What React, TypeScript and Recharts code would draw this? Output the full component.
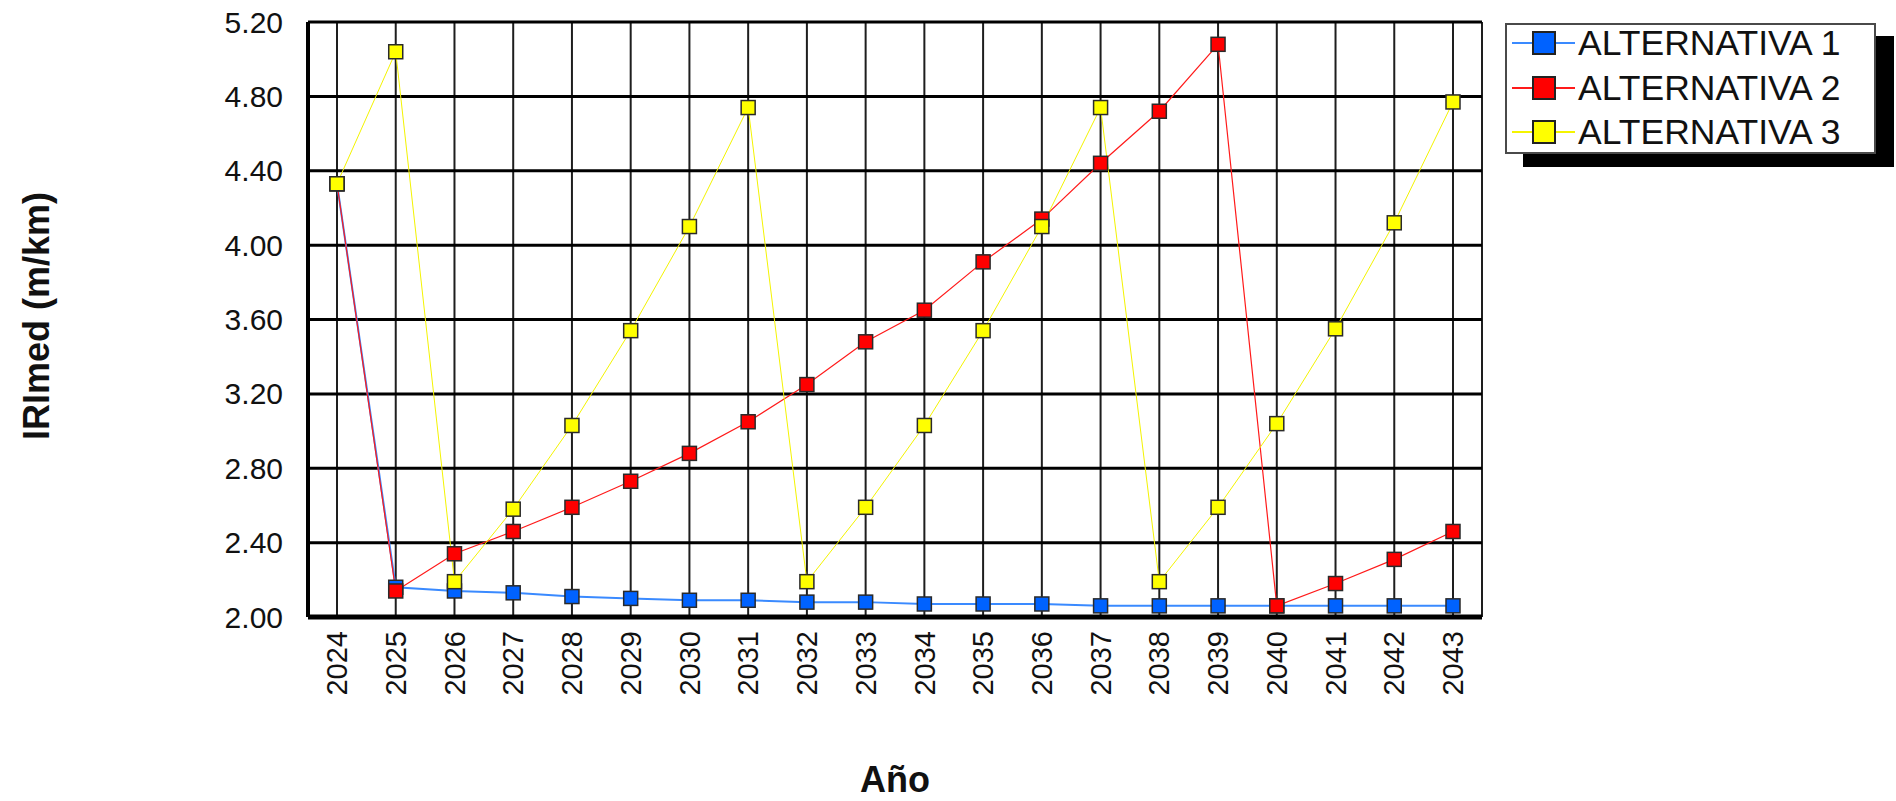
import { LineChart, Line, XAxis, YAxis, CartesianGrid } from 'recharts';

const YEARS = [
  '2024', '2025', '2026', '2027', '2028', '2029', '2030', '2031', '2032', '2033',
  '2034', '2035', '2036', '2037', '2038', '2039', '2040', '2041', '2042', '2043',
];

const ALT_1 = [
  4.33, 2.16, 2.14, 2.13, 2.11, 2.1, 2.09, 2.09, 2.08, 2.08,
  2.07, 2.07, 2.07, 2.06, 2.06, 2.06, 2.06, 2.06, 2.06, 2.06,
];
const ALT_2 = [
  4.33, 2.14, 2.34, 2.46, 2.59, 2.73, 2.88, 3.05, 3.25, 3.48,
  3.65, 3.91, 4.14, 4.44, 4.72, 5.08, 2.06, 2.18, 2.31, 2.46,
];
const ALT_3 = [
  4.33, 5.04, 2.19, 2.58, 3.03, 3.54, 4.1, 4.74, 2.19, 2.59,
  3.03, 3.54, 4.1, 4.74, 2.19, 2.59, 3.04, 3.55, 4.12, 4.77,
];

const Y_TICKS = [2, 2.4, 2.8, 3.2, 3.6, 4, 4.4, 4.8, 5.2];

const SERIES = [
  { key: 'alt1', name: 'ALTERNATIVA 1', fill: '#0062ff', line: '#3a8aff', width: 2 },
  { key: 'alt2', name: 'ALTERNATIVA 2', fill: '#ff0000', line: '#ff1a1a', width: 1.2 },
  { key: 'alt3', name: 'ALTERNATIVA 3', fill: '#ffff00', line: '#f4f400', width: 1 },
];

const FONT = '"Liberation Sans", Arial, sans-serif';

const data = YEARS.map((year, i) => ({
  year,
  alt1: ALT_1[i],
  alt2: ALT_2[i],
  alt3: ALT_3[i],
}));

// square markers with a dark outline, one per data point
function squareDot(fill: string) {
  return (props: any) => {
    const { cx, cy, index } = props;
    if (cx == null || cy == null) return <g key={index} />;
    return (
      <rect
        key={index}
        x={cx - 7}
        y={cy - 7}
        width={14}
        height={14}
        fill={fill}
        stroke="#2a2a2a"
        strokeWidth={1.5}
      />
    );
  };
}

function YearTick({ x, y, payload }: any) {
  return (
    <text
      transform={`translate(${x},${y}) rotate(-90)`}
      textAnchor="end"
      dy="0.35em"
      fontFamily={FONT}
      fontSize={29}
      fill="#111"
    >
      {payload.value}
    </text>
  );
}

function ValueTick({ x, y, payload }: any) {
  return (
    <text x={x} y={y} textAnchor="end" dy="0.35em" fontFamily={FONT} fontSize={30} fill="#111">
      {Number(payload.value).toFixed(2)}
    </text>
  );
}

function ChartLegend() {
  return (
    <div
      style={{
        position: 'absolute',
        left: 1505,
        top: 23,
        width: 371,
        height: 131,
        boxSizing: 'border-box',
        border: '2px solid #4a4a4a',
        background: '#fff',
        boxShadow: '18px 13px 0 0 #000',
        fontFamily: FONT,
      }}
    >
      {SERIES.map((s, i) => (
        <div
          key={s.key}
          style={{
            position: 'absolute',
            left: 0,
            top: 18 + i * 44.5 - 20,
            height: 40,
            width: 365,
          }}
        >
          <div
            style={{
              position: 'absolute',
              left: 5,
              top: 19,
              width: 63,
              height: 2,
              background: s.line,
            }}
          />
          <div
            style={{
              position: 'absolute',
              left: 25,
              top: 8,
              width: 24,
              height: 24,
              boxSizing: 'border-box',
              background: s.fill,
              border: '2px solid #222',
            }}
          />
          <div
            style={{
              position: 'absolute',
              left: 71,
              top: 0,
              height: 40,
              lineHeight: '40px',
              fontSize: 35.5,
              color: '#111',
              whiteSpace: 'nowrap',
            }}
          >
            {s.name}
          </div>
        </div>
      ))}
    </div>
  );
}

export default function App() {
  return (
    <div style={{ position: 'relative', width: 1896, height: 801, background: '#fff' }}>
      <style>{'body{margin:0}'}</style>
      <LineChart
        width={1896}
        height={801}
        data={data}
        margin={{ top: 22, right: 414, left: 0, bottom: 0 }}
      >
        <CartesianGrid horizontal={false} stroke="#1e1e1e" strokeWidth={2} />
        <CartesianGrid vertical={false} stroke="#000" strokeWidth={3} />
        <XAxis
          dataKey="year"
          type="category"
          interval={0}
          height={184}
          padding={{ left: 29, right: 29 }}
          axisLine={{ stroke: '#000', strokeWidth: 5 }}
          tickLine={false}
          tickSize={0}
          tickMargin={14}
          tick={<YearTick />}
          label={{
            content: () => (
              <text
                x={895}
                y={792}
                textAnchor="middle"
                fontFamily={FONT}
                fontSize={36}
                fontWeight="bold"
                fill="#111"
              >
                Año
              </text>
            ),
          }}
        />
        <YAxis
          width={308}
          domain={[2, 5.2]}
          ticks={Y_TICKS}
          axisLine={{ stroke: '#000', strokeWidth: 4 }}
          tickLine={false}
          tickSize={0}
          tickMargin={25}
          tick={<ValueTick />}
          label={{
            content: () => (
              <text
                transform="translate(36,316) rotate(-90)"
                textAnchor="middle"
                dy="0.35em"
                fontFamily={FONT}
                fontSize={36}
                fontWeight="bold"
                fill="#111"
              >
                IRImed (m/km)
              </text>
            ),
          }}
        />
        {/* right-hand frame of the plot */}
        <YAxis
          yAxisId="frame"
          orientation="right"
          width={0}
          domain={[2, 5.2]}
          ticks={Y_TICKS}
          tick={false}
          tickLine={false}
          axisLine={{ stroke: '#000', strokeWidth: 3 }}
        />
        {SERIES.map((s) => (
          <Line
            key={s.key}
            type="linear"
            dataKey={s.key}
            name={s.name}
            stroke={s.line}
            strokeWidth={s.width}
            dot={squareDot(s.fill)}
            activeDot={false}
            isAnimationActive={false}
          />
        ))}
      </LineChart>
      <ChartLegend />
    </div>
  );
}
